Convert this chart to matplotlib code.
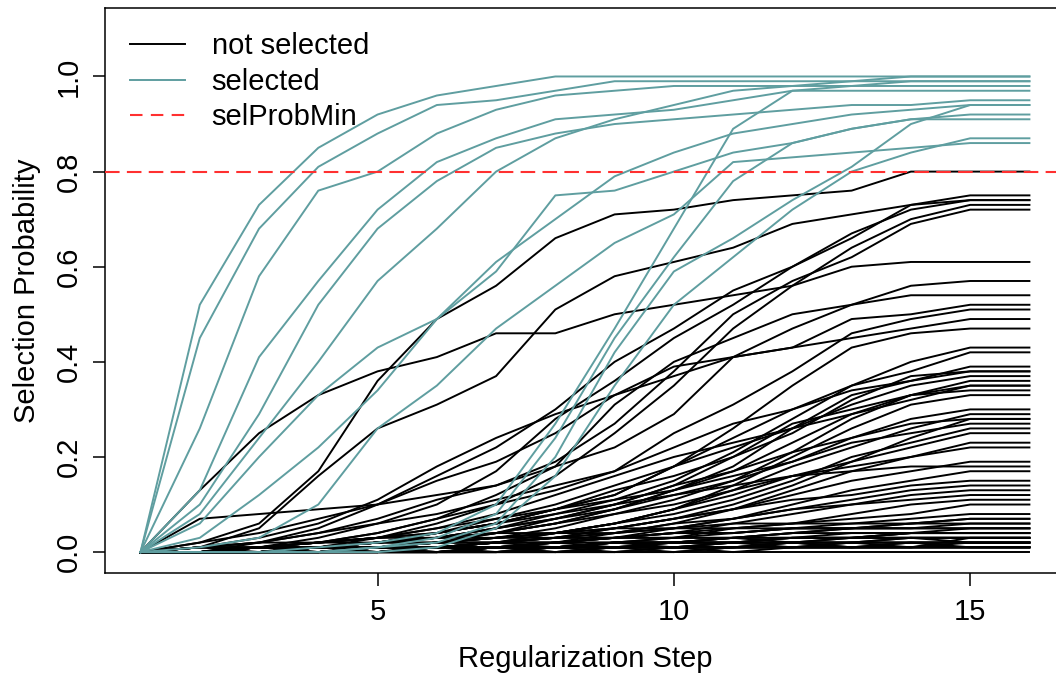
import matplotlib
matplotlib.use("Agg")
import matplotlib.pyplot as plt

# ------------------------------------------------------------
# Stability selection paths: selection probability per step
# ------------------------------------------------------------

steps = list(range(1, 17))
sel_prob_min = 0.8

# variables whose final probability passes selProbMin
selected_paths = [
    [0, .52, .73, .85, .92, .96, .98, 1.0, 1.0, 1.0, 1.0, 1.0, 1.0, 1.0, 1.0, 1.0],
    [0, .45, .68, .81, .88, .94, .95, .97, .99, .99, .99, .99, .99, .99, .99, .99],
    [0, .26, .58, .76, .80, .88, .93, .96, .97, .98, .98, .98, .98, .98, .98, .98],
    [0, .13, .41, .57, .72, .82, .87, .91, .92, .93, .95, .97, .97, .97, .97, .97],
    [0, .10, .29, .52, .68, .78, .85, .88, .90, .91, .92, .93, .94, .94, .95, .95],
    [0, .08, .24, .40, .57, .68, .80, .87, .91, .94, .97, .98, .99, 1.0, 1.0, 1.0],
    [0, .06, .20, .33, .43, .49, .59, .75, .76, .80, .84, .86, .89, .91, .92, .92],
    [0, .03, .12, .22, .34, .49, .61, .70, .79, .84, .88, .90, .92, .93, .94, .94],
    [0, .01, .03, .10, .26, .35, .47, .56, .65, .71, .82, .83, .84, .85, .86, .86],
    [0, 0, 0, .01, .02, .04, .10, .27, .47, .68, .89, .97, .98, .99, .99, .99],
    [0, 0, 0, 0, .01, .03, .08, .24, .45, .62, .78, .86, .89, .91, .91, .91],
    [0, 0, 0, 0, .01, .02, .06, .20, .42, .59, .66, .74, .81, .90, .94, .94],
    [0, 0, 0, 0, 0, .01, .05, .16, .35, .52, .62, .72, .80, .84, .87, .87],
]

not_selected_paths = [
    [0, .02, .06, .17, .36, .49, .56, .66, .71, .72, .74, .75, .76, .80, .80, .80],
    [0, .13, .25, .33, .38, .41, .46, .46, .50, .52, .54, .56, .60, .61, .61, .61],
    [0, .01, .05, .16, .26, .31, .37, .51, .58, .61, .64, .69, .71, .73, .75, .75],
    [0, 0, .02, .05, .10, .16, .22, .30, .40, .47, .55, .60, .67, .72, .74, .74],
    [0, 0, .01, .03, .06, .10, .17, .28, .36, .45, .52, .60, .66, .73, .74, .74],
    [0, 0, 0, .01, .03, .06, .10, .16, .25, .35, .47, .56, .64, .70, .73, .73],
    [0, .01, .02, .04, .07, .11, .14, .19, .27, .38, .50, .57, .62, .69, .72, .72],
    [0, 0, .01, .02, .04, .07, .12, .18, .22, .29, .41, .47, .52, .56, .57, .57],
    [0, .07, .08, .09, .10, .12, .14, .18, .31, .40, .45, .50, .52, .54, .54, .54],
    [0, .01, .03, .06, .11, .18, .24, .29, .33, .39, .41, .43, .49, .50, .52, .52],
    [0, 0, .01, .02, .04, .07, .10, .13, .17, .25, .31, .38, .46, .49, .51, .51],
    [0, .02, .04, .07, .10, .15, .19, .25, .33, .37, .41, .43, .45, .47, .49, .49],
    [0, 0, .01, .02, .03, .05, .07, .09, .12, .18, .26, .35, .43, .46, .47, .47],
    [0, 0, 0, .01, .02, .03, .05, .08, .11, .15, .21, .28, .35, .40, .43, .43],
    [0, .01, .02, .04, .06, .08, .11, .14, .17, .22, .27, .30, .35, .38, .42, .42],
    [0, 0, 0, .01, .02, .04, .06, .09, .12, .18, .24, .30, .34, .36, .39, .39],
    [0, 0, .01, .02, .03, .04, .06, .09, .13, .16, .20, .25, .32, .37, .38, .38],
    [0, 0, 0, 0, .01, .02, .04, .06, .09, .13, .18, .26, .33, .36, .38, .38],
    [0, 0, .01, .01, .02, .04, .07, .10, .14, .18, .22, .26, .31, .35, .37, .37],
    [0, 0, 0, .01, .02, .03, .05, .07, .10, .14, .20, .27, .30, .33, .36, .36],
    [0, 0, 0, 0, .01, .02, .03, .05, .08, .11, .15, .21, .28, .33, .35, .35],
    [0, 0, .01, .02, .03, .05, .08, .12, .16, .20, .23, .26, .29, .32, .35, .35],
    [0, 0, 0, .01, .02, .03, .04, .06, .09, .13, .17, .23, .29, .33, .34, .34],
    [0, 0, 0, 0, .01, .01, .02, .04, .06, .09, .14, .20, .26, .31, .33, .33],
    [0, 0, 0, .01, .02, .04, .06, .09, .11, .13, .16, .19, .24, .28, .30, .30],
    [0, 0, 0, 0, .01, .02, .03, .04, .06, .09, .13, .18, .22, .26, .29, .29],
    [0, 0, 0, .01, .01, .02, .04, .07, .10, .14, .17, .21, .24, .27, .28, .28],
    [0, 0, 0, 0, 0, .01, .02, .03, .05, .07, .10, .14, .19, .24, .28, .28],
    [0, 0, .01, .01, .02, .03, .05, .07, .09, .12, .15, .19, .23, .25, .27, .27],
    [0, 0, 0, 0, .01, .01, .02, .04, .06, .08, .11, .15, .20, .23, .26, .26],
    [0, 0, 0, .01, .01, .02, .03, .04, .06, .09, .12, .16, .19, .22, .25, .25],
    [0, 0, 0, 0, 0, .01, .01, .02, .04, .06, .09, .13, .17, .20, .23, .23],
    [0, 0, 0, .01, .02, .03, .04, .06, .08, .10, .13, .16, .18, .20, .22, .22],
    [0, 0, 0, 0, .01, .01, .02, .03, .05, .07, .09, .12, .15, .17, .19, .19],
    [0, 0, .01, .02, .03, .04, .06, .08, .10, .12, .14, .16, .17, .18, .18, .18],
    [0, 0, 0, 0, 0, .01, .01, .02, .03, .05, .07, .10, .13, .15, .17, .17],
    [0, 0, 0, .01, .01, .02, .03, .04, .05, .07, .09, .11, .12, .14, .15, .15],
    [0, 0, 0, 0, .01, .01, .02, .03, .04, .05, .07, .09, .11, .13, .14, .14],
    [0, 0, 0, 0, 0, .01, .01, .02, .03, .04, .06, .08, .10, .12, .13, .13],
    [0, 0, 0, .01, .01, .02, .02, .03, .04, .06, .07, .09, .10, .11, .12, .12],
    [0, 0, 0, 0, 0, 0, .01, .01, .02, .03, .05, .06, .08, .10, .11, .11],
    [0, 0, 0, 0, .01, .01, .01, .02, .03, .04, .05, .06, .07, .08, .10, .10],
    [0, 0, 0, 0, 0, .01, .01, .01, .02, .03, .04, .05, .06, .07, .08, .08],
    [0, 0, 0, 0, 0, 0, .01, .01, .02, .02, .03, .04, .05, .06, .07, .07],
    [0, 0, 0, 0, 0, .01, .01, .01, .02, .02, .03, .04, .05, .05, .06, .06],
    [0, 0, 0, 0, 0, 0, 0, .01, .01, .02, .02, .03, .04, .04, .05, .05],
    [0, 0, 0, 0, 0, 0, .01, .01, .01, .02, .02, .03, .03, .04, .04, .04],
    [0, 0, 0, 0, 0, 0, 0, 0, .01, .01, .01, .02, .02, .03, .03, .03],
    [0, 0, 0, 0, 0, 0, 0, .01, .01, .01, .01, .02, .02, .02, .02, .02],
    [0, 0, .01, .01, .02, .02, .03, .03, .03, .04, .04, .05, .05, .05, .05, .05],
    [0, .01, .01, .01, .01, .02, .02, .02, .03, .03, .03, .04, .04, .04, .04, .04],
    [0, 0, 0, .01, .01, .01, .02, .02, .02, .02, .03, .03, .03, .04, .04, .04],
    [0, 0, 0, 0, .01, .01, .01, .01, .02, .02, .02, .02, .03, .03, .03, .03],
    [0, .01, .01, .02, .02, .02, .02, .03, .03, .03, .03, .03, .03, .03, .03, .03],
    [0, 0, .01, .01, .01, .01, .01, .02, .02, .02, .02, .02, .02, .02, .02, .02],
    [0, 0, 0, 0, 0, .01, .01, .01, .01, .01, .02, .02, .02, .02, .02, .02],
    [0, 0, 0, .01, .01, .01, .01, .01, .01, .01, .01, .01, .01, .01, .01, .01],
    [0, 0, 0, 0, 0, 0, .01, .01, .01, .01, .01, .01, .01, .01, .01, .01],
    [0, .01, .01, .01, .01, .01, .01, .01, .01, .01, .01, .01, .01, .01, .01, .01],
    [0, 0, 0, 0, 0, 0, 0, 0, .01, .01, .01, .01, .01, .01, .01, .01],
    [0, 0, 0, 0, 0, 0, 0, 0, 0, 0, .01, .01, .01, .01, .01, .01],
    [0, 0, .01, 0, .01, .01, .02, .01, .02, .02, .02, .03, .03, .03, .03, .03],
    [0, 0, 0, .01, 0, .01, .01, .02, .01, .02, .03, .02, .03, .04, .04, .04],
    [0, .01, 0, .01, .01, 0, .01, .01, .02, .01, .02, .02, .01, .02, .02, .02],
    [0, 0, 0, 0, .01, 0, 0, .01, .01, 0, .01, .01, .02, .01, .02, .02],
    [0, 0, 0, 0, 0, 0, 0, 0, 0, 0, 0, 0, 0, 0, 0, 0],
    [0, 0, .01, .01, .02, .03, .03, .04, .05, .05, .06, .06, .06, .06, .06, .06],
    [0, 0, 0, 0, .01, .01, .02, .02, .03, .04, .04, .05, .05, .06, .07, .07],
    [0, .01, .02, .02, .03, .03, .04, .04, .04, .05, .05, .05, .05, .05, .05, .05],
    [0, 0, 0, .01, 0, 0, .01, 0, .01, .01, 0, .01, .01, .02, .01, .01],
    [0, 0, .01, 0, 0, .01, 0, .01, 0, .01, .02, .01, .02, .03, .02, .02],
    [0, 0, 0, 0, 0, 0, .01, 0, 0, .01, .01, .02, .01, .01, .03, .03],
]

legend_labels = ["not selected", "selected", "selProbMin"]

BLACK = "black"
TEAL = "cadetblue"
RED = "#FF3030"
LW = 1.4

plt.rcParams["font.family"] = ["Liberation Sans", "DejaVu Sans"]

fig = plt.figure(figsize=(10.56, 6.77), dpi=100)
ax = fig.add_axes([0.0994, 0.1536, 0.9091, 0.8346])

for path in not_selected_paths:
    ax.plot(steps, path, color=BLACK, lw=LW, zorder=2)
for path in selected_paths:
    ax.plot(steps, path, color=TEAL, lw=LW, zorder=3)

ax.axhline(sel_prob_min, color=RED, lw=1.5, dashes=(7, 3.5), zorder=4)

# legend proxies
h1, = ax.plot([], [], color=BLACK, lw=LW)
h2, = ax.plot([], [], color=TEAL, lw=LW)
h3, = ax.plot([], [], color=RED, lw=1.5, dashes=(6, 4))
ax.legend([h1, h2, h3], legend_labels, loc="upper left",
          bbox_to_anchor=(0.026, 0.957), frameon=False, fontsize=21,
          handlelength=1.9, handletextpad=0.9, labelspacing=0.26,
          borderaxespad=0, borderpad=0)

ax.set_xlim(0.4, 16.6)
ax.set_ylim(-0.044, 1.144)
ax.set_xticks([5, 10, 15])
ax.set_yticks([0.0, 0.2, 0.4, 0.6, 0.8, 1.0])
ax.set_yticklabels(["0.0", "0.2", "0.4", "0.6", "0.8", "1.0"], rotation=90, va="center")
ax.tick_params(direction="out", length=9, width=1.1, labelsize=21, pad=7)
ax.tick_params(axis="x", pad=9)
for sp in ax.spines.values():
    sp.set_linewidth(1.1)

ax.set_xlabel("Regularization Step", fontsize=21, labelpad=14)
ax.set_ylabel("Selection Probability", fontsize=21, labelpad=10)

fig.savefig("out.png", dpi=100)
